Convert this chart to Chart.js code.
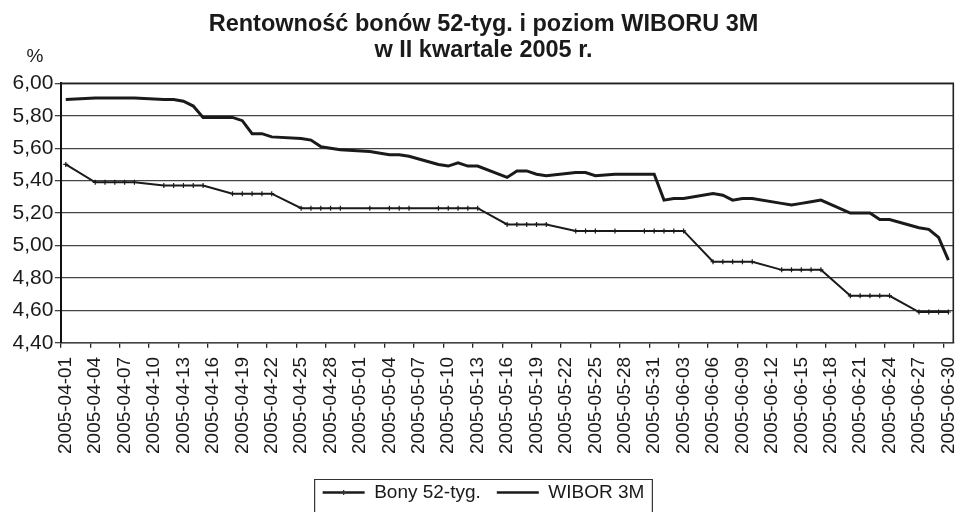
<!DOCTYPE html>
<html><head><meta charset="utf-8">
<script src="https://cdn.jsdelivr.net/npm/chart.js@4/dist/chart.umd.min.js"></script>
<style>html,body{margin:0;padding:0;background:#fff}#wrap{width:957px;height:512px}</style>
</head><body><div id="wrap"><canvas id="c" width="957" height="512"></canvas></div>
<script>
// ---- data ----
const dates = [
 '2005-04-01','2005-04-02','2005-04-03','2005-04-04','2005-04-05','2005-04-06','2005-04-07','2005-04-08','2005-04-09','2005-04-10',
 '2005-04-11','2005-04-12','2005-04-13','2005-04-14','2005-04-15','2005-04-16','2005-04-17','2005-04-18','2005-04-19','2005-04-20',
 '2005-04-21','2005-04-22','2005-04-23','2005-04-24','2005-04-25','2005-04-26','2005-04-27','2005-04-28','2005-04-29','2005-04-30',
 '2005-05-01','2005-05-02','2005-05-03','2005-05-04','2005-05-05','2005-05-06','2005-05-07','2005-05-08','2005-05-09','2005-05-10',
 '2005-05-11','2005-05-12','2005-05-13','2005-05-14','2005-05-15','2005-05-16','2005-05-17','2005-05-18','2005-05-19','2005-05-20',
 '2005-05-21','2005-05-22','2005-05-23','2005-05-24','2005-05-25','2005-05-26','2005-05-27','2005-05-28','2005-05-29','2005-05-30',
 '2005-05-31','2005-06-01','2005-06-02','2005-06-03','2005-06-04','2005-06-05','2005-06-06','2005-06-07','2005-06-08','2005-06-09',
 '2005-06-10','2005-06-11','2005-06-12','2005-06-13','2005-06-14','2005-06-15','2005-06-16','2005-06-17','2005-06-18','2005-06-19',
 '2005-06-20','2005-06-21','2005-06-22','2005-06-23','2005-06-24','2005-06-25','2005-06-26','2005-06-27','2005-06-28','2005-06-29',
 '2005-06-30'
];
const bony = [
 5.50, null, null,
 5.39, 5.39, 5.39, 5.39, 5.39, null, null,
 5.37, 5.37, 5.37, 5.37, 5.37, null, null,
 5.32, 5.32, 5.32, 5.32, 5.32, null, null,
 5.23, 5.23, 5.23, 5.23, 5.23, null, null,
 5.23, null, 5.23, 5.23, 5.23, null, null,
 5.23, 5.23, 5.23, 5.23, 5.23, null, null,
 5.13, 5.13, 5.13, 5.13, 5.13, null, null,
 5.09, 5.09, 5.09, null, 5.09, null, null,
 5.09, 5.09, 5.09, 5.09, 5.09, null, null,
 4.90, 4.90, 4.90, 4.90, 4.90, null, null,
 4.85, 4.85, 4.85, 4.85, 4.85, null, null,
 4.69, 4.69, 4.69, 4.69, 4.69, null, null,
 4.59, 4.59, 4.59, 4.59
];
const wibor = [
 5.90, null, null,
 5.91, 5.91, 5.91, 5.91, 5.91, null, null,
 5.90, 5.90, 5.89, 5.86, 5.79, null, null,
 5.79, 5.77, 5.69, 5.69, 5.67, null, null,
 5.66, 5.65, 5.61, 5.60, 5.59, null, null,
 5.58, null, 5.56, 5.56, 5.55, null, null,
 5.50, 5.49, 5.51, 5.49, 5.49, null, null,
 5.42, 5.46, 5.46, 5.44, 5.43, null, null,
 5.45, 5.45, 5.43, null, 5.44, null, null,
 5.44, 5.44, 5.28, 5.29, 5.29, null, null,
 5.32, 5.31, 5.28, 5.29, 5.29, null, null,
 5.26, 5.25, 5.26, 5.27, 5.28, null, null,
 5.20, 5.20, 5.20, 5.16, 5.16, null, null,
 5.11, 5.10, 5.05, 4.91
];
const yTickLabels = ['4,40','4,60','4,80','5,00','5,20','5,40','5,60','5,80','6,00'];
const xLabelEvery = 3;
const seriesNames = ['Bony 52-tyg.', 'WIBOR 3M'];
const titleLines = ['Rentowność bonów 52-tyg. i poziom WIBORU 3M', 'w II kwartale 2005 r.'];
const unitLabel = '%';

// ---- chart ----
const INK = '#1a1a1a';
const FONT = "'Liberation Sans', Arial, sans-serif";
Chart.defaults.font.family = FONT;
Chart.defaults.color = INK;

const extras = {
  id: 'extras',
  beforeDatasetsDraw(chart) {
    const a = chart.chartArea, ctx = chart.ctx;
    ctx.save();
    ctx.strokeStyle = '#222';
    ctx.lineWidth = 1.6;
    ctx.beginPath();
    ctx.moveTo(a.left, a.top); ctx.lineTo(a.right, a.top); ctx.lineTo(a.right, a.bottom);
    ctx.stroke();
    ctx.restore();
  },
  afterDraw(chart) {
    const a = chart.chartArea, ctx = chart.ctx;
    ctx.save();
    ctx.fillStyle = INK;
    ctx.font = "19px " + FONT;
    ctx.textAlign = 'center';
    ctx.textBaseline = 'middle';
    ctx.fillText(unitLabel, a.left - 26, a.top - 27);
    const lg = chart.legend, hb = lg.legendHitBoxes;
    if (hb && hb.length) {
      const first = hb[0], last = hb[hb.length - 1];
      const cy = first.top + first.height / 2;
      const x0 = first.left - 8, x1 = last.left + last.width + 8, y0 = cy - 13;
      ctx.strokeStyle = '#333';
      ctx.lineWidth = 1.2;
      ctx.beginPath();
      ctx.moveTo(x0, chart.height + 5); ctx.lineTo(x0, y0); ctx.lineTo(x1, y0); ctx.lineTo(x1, chart.height + 5);
      ctx.stroke();
      const bw = lg.options.labels.boxWidth;
      const mx = first.left + bw / 2;
      ctx.lineWidth = 1.3;
      ctx.beginPath();
      ctx.moveTo(mx - 2.5, cy); ctx.lineTo(mx + 2.5, cy);
      ctx.moveTo(mx, cy - 2.5); ctx.lineTo(mx, cy + 2.5);
      ctx.stroke();
    }
    ctx.restore();
  }
};

new Chart(document.getElementById('c'), {
  type: 'line',
  data: {
    labels: dates,
    datasets: [
      { label: seriesNames[0], data: bony, borderColor: INK, borderWidth: 2, spanGaps: true, tension: 0,
        pointStyle: 'cross', pointRadius: 2.5, pointBorderWidth: 1.2, pointBorderColor: INK, pointBackgroundColor: INK, pointHoverRadius: 2.5 },
      { label: seriesNames[1], data: wibor, borderColor: INK, borderWidth: 3, spanGaps: true, tension: 0,
        pointRadius: 0, pointHoverRadius: 0 }
    ]
  },
  options: {
    responsive: false,
    animation: false,
    events: [],
    layout: { padding: { left: 11, right: 1, top: 0, bottom: 0 } },
    plugins: {
      tooltip: { enabled: false },
      title: {
        display: true,
        text: titleLines,
        color: INK,
        font: { family: FONT, size: 23.5, weight: 'bold', lineHeight: 1.11 },
        padding: { top: 11, bottom: 20.2 }
      },
      legend: {
        display: true,
        position: 'bottom',
        labels: {
          color: INK,
          font: { family: FONT, size: 19 },
          boxWidth: 42,
          boxHeight: 2.5,
          padding: 16,
          generateLabels(chart) {
            return chart.data.datasets.map((ds, i) => ({
              text: ds.label, fillStyle: INK, strokeStyle: INK, lineWidth: 0,
              hidden: false, datasetIndex: i, fontColor: INK
            }));
          }
        }
      }
    },
    scales: {
      x: {
        type: 'category',
        offset: true,
        afterFit(scale) { scale.height += 4; scale.paddingLeft = 0; scale.paddingRight = 0; },
        grid: {
          offset: true,
          drawOnChartArea: false,
          drawTicks: true,
          tickLength: 5,
          lineWidth: 1.3,
          color: (c) => (c.index % xLabelEvery === 0 ? '#222' : 'rgba(0,0,0,0)')
        },
        border: { display: true, color: '#444', width: 1.5 },
        ticks: {
          autoSkip: false,
          minRotation: 90,
          maxRotation: 90,
          padding: 9,
          color: INK,
          font: { family: FONT, size: 19 },
          callback: function (v, i) { return i % xLabelEvery === 0 ? dates[i] : ''; }
        }
      },
      y: {
        min: 4.4,
        max: 6.0,
        grid: { color: '#444', lineWidth: 1.3, drawTicks: true, tickLength: 6 },
        border: { display: true, color: '#111', width: 2 },
        ticks: {
          stepSize: 0.2,
          padding: 1.5,
          color: INK,
          font: { family: FONT, size: 21 },
          callback: function (v, i) { return yTickLabels[i]; }
        }
      }
    }
  },
  plugins: [extras]
});
</script>
</body></html>
